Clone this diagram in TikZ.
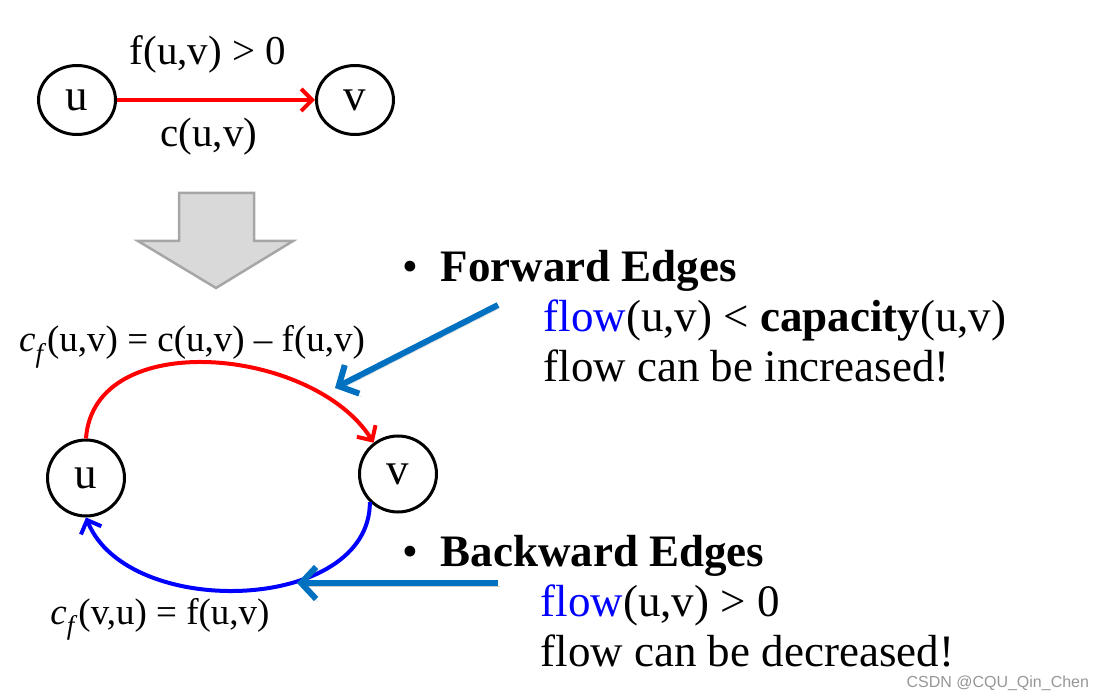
\documentclass[tikz,border=0pt]{standalone}
\usepackage{fontspec}
\setmainfont{Liberation Serif}
\setsansfont{Liberation Sans}
\usetikzlibrary{arrows.meta,shapes.geometric}
\definecolor{pointblue}{RGB}{0,112,192}
\definecolor{downfill}{RGB}{217,217,217}
\definecolor{downdraw}{RGB}{166,166,166}
\definecolor{markgray}{RGB}{150,150,150}
\newcommand{\capf}{\textit{c}\raisebox{-0.28em}{\fontsize{27}{27}\selectfont\textit{f}}\kern1pt}

\begin{document}
\begin{tikzpicture}
      [   x=1pt,y=1pt,
          vnode/.style={draw=black,line width=3pt,ellipse,inner sep=0pt,minimum width=77pt,minimum height=#1,font=\fontsize{45}{50}\selectfont},
          lab/.style={anchor=base,font=\fontsize{#1}{#1}\selectfont},
          item/.style={anchor=base west,font=\fontsize{45}{50}\selectfont},
          flowedge/.style={draw=#1,line width=4pt,-{Straight Barb[length=11pt,width=22pt]}},
          pointer/.style={draw=pointblue,line width=6pt,-{Straight Barb[length=15pt,width=32pt]},
              preaction={draw=black,opacity=0.2,transform canvas={shift={(2pt,-3pt)}}}},
      ]
          \useasboundingbox (0,0) rectangle (1101,-700);

          % original edge
          \node[vnode=69pt] (tu) at (77,-100) {u};
          \node[vnode=69pt] (tv) at (355,-100) {v};
          \draw[flowedge=red] (tu) -- (tv);
          \node[lab=41] (tflow) at (208,-65) {f(u,v) > 0};
          \node[lab=41] (tcap) at (209,-147) {c(u,v)};

          % big down arrow
          \filldraw[fill=downfill,draw=downdraw,line width=2.5pt]
              (179,-193) -- (254,-193) -- (254,-241) -- (293,-241) -- (216,-288)
              -- (138,-241) -- (179,-241) -- cycle;

          % residual graph
          \node[vnode=76pt] (bu) at (86,-478) {u};
          \node[vnode=76pt] (bv) at (398,-474) {v};
          \draw[flowedge=red] (bu.north) to[out=86,in=122] (bv.128);
          \draw[flowedge=blue] (bv.225) to[out=-90,in=-68] (bu.south);
          \node[lab=37] (fwdlab) at (192,-352) {\capf(u,v) = c(u,v) -- f(u,v)};
          \node[lab=37] (bwdlab) at (160,-624) {\capf(v,u) = f(u,v)};

          % forward edges
          \node[item] (fdot) at (399,-282) {\textbullet};
          \node[item] (fhead) at (437,-282) {\textbf{Forward Edges}};
          \node[item] (fcond) at (540,-332) {\textcolor{blue}{flow}(u,v) < \textbf{capacity}(u,v)};
          \node[item] (fnote) at (540,-382) {flow can be increased!};

          % backward edges
          \node[item] (bdot) at (399,-566) {\textbullet};
          \node[item] (bhead) at (437,-566) {\textbf{Backward Edges}};
          \node[item] (bcond) at (537,-616) {\textcolor{blue}{flow}(u,v) > 0};
          \node[item] (bnote) at (537,-666) {flow can be decreased!};

          \coordinate (ftail) at (498,-305);
          \coordinate (ftip) at (335,-388);
          \coordinate (btail) at (498,-583);
          \coordinate (btip) at (297,-583);
          \draw[pointer] (ftail) -- (ftip);
          \draw[pointer] (btail) -- (btip);

          \node[anchor=base west,text=markgray,font=\sffamily\fontsize{16}{16}\selectfont] (mark) at (903,-687) {CSDN @CQU\_Qin\_Chen};
    \end{tikzpicture}
\end{document}
